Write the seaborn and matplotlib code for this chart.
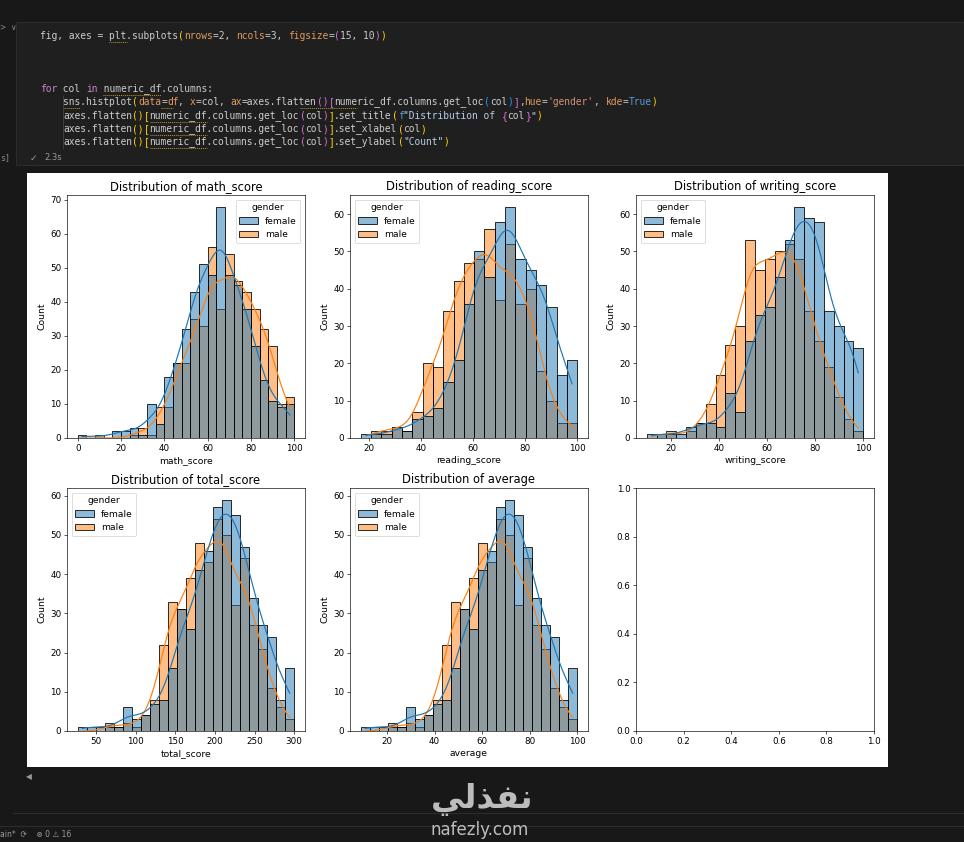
import numpy as np
import pandas as pd
import matplotlib
matplotlib.use("Agg")
import matplotlib.pyplot as plt
from matplotlib.patches import Rectangle
from matplotlib.lines import Line2D
import seaborn as sns

# counts per bin (female / male)
math_range = (0, 100)
math_female = [1, 0, 1, 0, 2, 2, 3, 1, 10, 4, 18, 22, 32, 43, 51, 48, 68, 48, 45, 38, 27, 17, 11, 9, 10]
math_male = [0, 0, 0, 0, 0, 0, 1, 3, 1, 9, 9, 22, 22, 35, 33, 56, 38, 54, 46, 43, 38, 32, 27, 10, 12]

reading_range = (17, 100)
reading_female = [1, 1, 1, 3, 2, 5, 6, 8, 15, 21, 36, 50, 43, 58, 62, 48, 45, 41, 35, 17, 21]
reading_male = [0, 2, 2, 3, 2, 7, 20, 19, 34, 42, 47, 48, 56, 37, 52, 36, 40, 18, 10, 4, 4]

writing_range = (10, 100)
writing_female = [1, 1, 1, 1, 3, 4, 4, 3, 12, 7, 26, 33, 35, 43, 53, 62, 59, 58, 34, 30, 26, 24]
writing_male = [0, 1, 2, 0, 2, 4, 9, 17, 25, 30, 53, 45, 48, 50, 52, 48, 34, 26, 19, 11, 5, 2]

total_range = (27, 300)
total_female = [1, 1, 1, 1, 1, 6, 3, 4, 7, 8, 16, 31, 26, 41, 46, 57, 59, 55, 47, 34, 27, 24, 8, 16]
total_male = [0, 0, 0, 2, 1, 2, 1, 4, 8, 22, 33, 31, 39, 48, 43, 54, 50, 32, 44, 27, 21, 11, 6, 3]

# average = total / 3, so the same counts on a rescaled range
average_range = (9, 100)
average_female = total_female
average_male = total_male

columns = ["math_score", "reading_score", "writing_score", "total_score", "average"]
ranges = [math_range, reading_range, writing_range, total_range, average_range]
females = [math_female, reading_female, writing_female, total_female, average_female]
males = [math_male, reading_male, writing_male, total_male, average_male]
legend_locs = ["upper right", "upper left", "upper left", "upper left", "upper left"]

W, H = 964, 842
s = 0.574  # the 15x10 inch output is shown shrunk inside the notebook

plt.rcParams.update({
    "font.size": 6.5,
    "axes.titlesize": 8.3,
    "axes.labelsize": 6.7,
    "xtick.labelsize": 6.3,
    "ytick.labelsize": 6.3,
    "legend.fontsize": 6.6,
    "legend.title_fontsize": 6.6,
    "lines.linewidth": 1.5 * s,
    "patch.linewidth": 1.0 * s,
    "axes.linewidth": 0.8 * s,
    "xtick.major.size": 3.5 * s,
    "ytick.major.size": 3.5 * s,
    "xtick.major.width": 0.8 * s,
    "ytick.major.width": 0.8 * s,
    "xtick.major.pad": 3.5 * s,
    "ytick.major.pad": 3.5 * s,
    "axes.titlepad": 6 * s,
    "axes.labelpad": 4 * s,
})


def px_rect(x0, y0, x1, y1):
    return [x0 / W, 1 - y1 / H, (x1 - x0) / W, (y1 - y0) / H]


def make_frame(col, rng, female, male):
    # one row per student, placed at the middle of its bin
    edges = np.linspace(rng[0], rng[1], len(female) + 1)
    centers = (edges[:-1] + edges[1:]) / 2
    return pd.DataFrame({
        col: np.concatenate([np.repeat(centers, female), np.repeat(centers, male)]),
        "gender": ["female"] * sum(female) + ["male"] * sum(male),
    })


fig = plt.figure(figsize=(W / 100, H / 100), dpi=100)
fig.patch.set_facecolor("#181818")

# notebook cell box and output area
fig.add_artist(Rectangle((16 / W, 1 - 165 / H), (W - 16) / W, (165 - 22) / H,
                         transform=fig.transFigure, facecolor="#1f1f1f",
                         edgecolor="#2c2c2c", linewidth=0.8, zorder=-2))
fig.add_artist(Rectangle((27 / W, 1 - 767 / H), (888 - 27) / W, (767 - 173) / H,
                         transform=fig.transFigure, facecolor="white",
                         edgecolor="none", zorder=-1))

col_left = [67, 350, 636]
row_top = [195, 488]
ax_w, ax_h = 238, 243
axes = []
for r in range(2):
    for c in range(3):
        x0, y0 = col_left[c], row_top[r]
        axes.append(fig.add_axes(px_rect(x0, y0, x0 + ax_w, y0 + ax_h)))

for i, col in enumerate(columns):
    ax = axes[i]
    df = make_frame(col, ranges[i], females[i], males[i])
    sns.histplot(data=df, x=col, hue="gender", hue_order=["female", "male"],
                 bins=len(females[i]), binrange=ranges[i], kde=True, ax=ax)
    ax.set_title(f"Distribution of {col}")
    ax.set_xlabel(col)
    ax.set_ylabel("Count")
    sns.move_legend(ax, legend_locs[i], title="gender")

# ---- code cell text ----
fs = 6.9
cw = 0.602 * fs * 100 / 72
plain = "#cccccc"
kw = "#c586c0"
par = "#e0995e"
b1 = "#ffd700"
b2 = "#da70d6"
b3 = "#179fff"
strc = "#ce9178"
strb = "#b4cde6"
blue = "#569cd6"
mono = "DejaVu Sans Mono"


def code_line(y, tokens, x0=40):
    col = 0
    for text, color in tokens:
        fig.text((x0 + col * cw) / W, 1 - y / H, text, color=color,
                 fontsize=fs, family=mono, va="center", ha="left")
        col += len(text)


def squiggle(y, col0, n, x0=40):
    fig.add_artist(Line2D([(x0 + col0 * cw) / W, (x0 + (col0 + n) * cw) / W],
                          [1 - (y + 6) / H] * 2, transform=fig.transFigure,
                          color="#b8962a", linewidth=0.7, linestyle=(0, (1, 1))))


flat = [("axes.flatten", plain), ("()", b1), ("[", b1), ("numeric_df.columns.get_loc", plain),
        ("(", b2), ("col", plain), (")", b2), ("]", b1)]

code_line(36, [("fig, axes = plt.subplots", plain), ("(", b1), ("nrows", par), ("=2, ", plain),
               ("ncols", par), ("=3, ", plain), ("figsize", par), ("=", plain), ("(", b2),
               ("15, 10", plain), (")", b2), (")", b1)])
squiggle(36, 12, 3)
code_line(89, [("for", kw), (" col ", plain), ("in", kw), (" numeric_df.columns:", plain)])
squiggle(89, 11, 10)
code_line(102, [("    sns.histplot", plain), ("(", b1), ("data", par), ("=", plain), ("df", par),
                (", ", plain), ("x", par), ("=col, ", plain), ("ax", par),
                ("=axes.flatten", plain), ("()", b2), ("[", b2),
                ("numeric_df.columns.get_loc", plain), ("(", b3), ("col", plain), (")", b3),
                ("]", b2), (",", plain), ("hue", par), ("=", plain), ("'gender'", strc),
                (", ", plain), ("kde", par), ("=", plain), ("True", blue), (")", b1)])
squiggle(102, 4, 3)
squiggle(102, 21, 2)
squiggle(102, 45, 10)
code_line(116, [("    ", plain)] + flat + [(".set_title", plain), ("(", b1),
                                           ("f", blue), ("\"Distribution of ", strb), ("{", b2),
                                           ("col", plain), ("}", b2), ("\"", strb), (")", b1)])
code_line(129, [("    ", plain)] + flat + [(".set_xlabel", plain), ("(", b1), ("col", plain), (")", b1)])
code_line(142, [("    ", plain)] + flat + [(".set_ylabel", plain), ("(", b1), ("\"Count\"", strb),
                                           (")", b1)])
for y in (116, 129, 142):
    squiggle(y, 19, 10)

fig.add_artist(Line2D([63 / W, 63 / W], [1 - 96 / H, 1 - 148 / H], transform=fig.transFigure,
                      color="#404040", linewidth=0.7))

fig.text(30 / W, 1 - 158 / H, "\u2713", color="#9a9a9a", fontsize=6.5, va="center")
fig.text(44 / W, 1 - 158 / H, "2.3s", color="#9a9a9a", fontsize=6, va="center")
fig.text(0 / W, 1 - 158 / H, "s]", color="#8a8a8a", fontsize=6, va="center", family=mono)
fig.text(0 / W, 1 - 28 / H, ">  \u2228", color="#8a8a8a", fontsize=5.5, va="center")

# ---- bottom of the window ----
fig.text(26 / W, 1 - 777 / H, "\u25c0", color="#9a9a9a", fontsize=5.5, va="center")
fig.add_artist(Line2D([13 / W, 1], [1 - 813 / H] * 2, transform=fig.transFigure,
                      color="#2c2c2c", linewidth=0.8))
fig.add_artist(Line2D([0, 1], [1 - 826 / H] * 2, transform=fig.transFigure,
                      color="#2c2c2c", linewidth=0.8))
fig.text(0 / W, 1 - 834 / H, "ain*  \u27f3    \u2297 0 \u26a0 16", color="#9a9a9a",
         fontsize=5.5, va="center")

# watermark (Arabic given in presentation forms, visual order)
fig.text(482 / W, 1 - 799 / H, "\ufef2\ufedf\ufeac\ufed4\ufee7", color="#cfcfcf", alpha=0.9,
         fontsize=24, fontweight="bold", ha="center", va="center", family=["DejaVu Sans"])
fig.text(480 / W, 1 - 830 / H, "nafezly.com", color="#cfcfcf", alpha=0.9,
         fontsize=12, ha="center", va="center")

fig.savefig("out.png", dpi=100, facecolor=fig.get_facecolor())
